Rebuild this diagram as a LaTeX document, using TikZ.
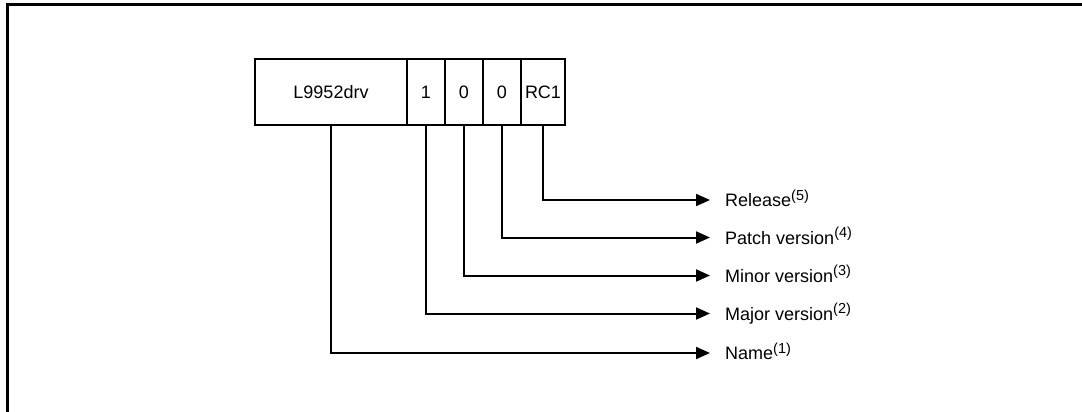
\documentclass[tikz,border=0pt]{standalone}
\usepackage{fontspec}
\setmainfont{Liberation Sans}
\usetikzlibrary{arrows.meta,positioning}

\newcommand{\fnmark}[1]{\raisebox{6.5pt}{\fontsize{14.5}{16}\selectfont #1}}

\tikzset{
  cell/.style={draw,line width=2.5pt,inner sep=0pt,outer sep=0pt,
    minimum height=66pt,font=\fontsize{18}{21}\selectfont},
  conn/.style={line width=2pt,-{Triangle[length=14pt,width=12pt]}},
  lbl/.style={anchor=west,inner sep=0pt,text height=17pt,text depth=4pt,
    font=\fontsize{18}{21}\selectfont}
}

\begin{document}
\begin{tikzpicture}[x=1pt,y=-1pt]
  \useasboundingbox (0,0) rectangle (1082,412);
  \draw[line width=3pt] (7.5,430) -- (7.5,5) -- (1100,5);

  \node[cell,minimum width=152pt]                    (cname)  at (331,92) {L9952drv};
  \node[cell,minimum width=38pt,right=0pt of cname]  (cmajor) {1};
  \node[cell,minimum width=38pt,right=0pt of cmajor] (cminor) {0};
  \node[cell,minimum width=38pt,right=0pt of cminor] (cpatch) {0};
  \node[cell,minimum width=44pt,right=0pt of cpatch] (crel)   {RC1};

  \node[lbl] (lrel)   at (725,200)   {Release\fnmark{(5)}};
  \node[lbl] (lpatch) at (725,237.5) {Patch version\fnmark{(4)}};
  \node[lbl] (lminor) at (725,275.5) {Minor version\fnmark{(3)}};
  \node[lbl] (lmajor) at (725,313.5) {Major version\fnmark{(2)}};
  \node[lbl] (lname)  at (725,353)   {Name\fnmark{(1)}};

  \draw[conn] (crel.south)   |- ([xshift=-15pt]lrel.west);
  \draw[conn] (cpatch.south) |- ([xshift=-15pt]lpatch.west);
  \draw[conn] (cminor.south) |- ([xshift=-15pt]lminor.west);
  \draw[conn] (cmajor.south) |- ([xshift=-15pt]lmajor.west);
  \draw[conn] (cname.south)  |- ([xshift=-15pt]lname.west);
\end{tikzpicture}
\end{document}
